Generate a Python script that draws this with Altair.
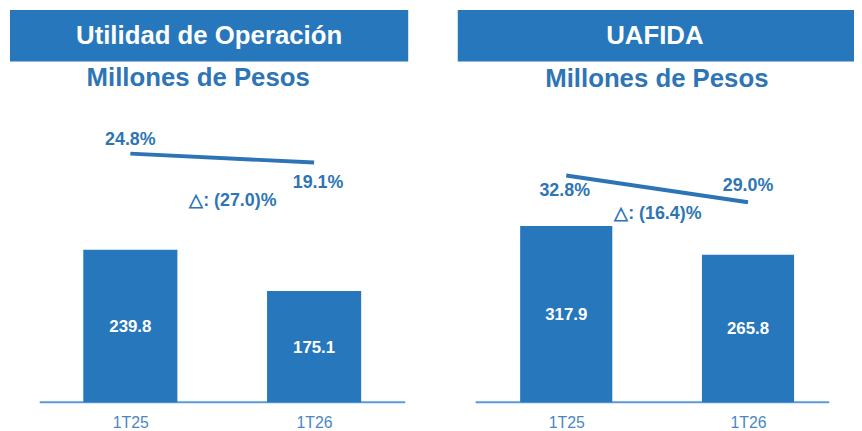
import altair as alt
import pandas as pd

# ---- data ----
periods = ["1T25", "1T26"]
op_income = [239.8, 175.1]
op_margin = [24.8, 19.1]
op_delta = "△: (27.0)%"
ebitda = [317.9, 265.8]
ebitda_margin = [32.8, 29.0]
ebitda_delta = "△: (16.4)%"
titles = ["Utilidad de Operación", "UAFIDA"]
subtitle = "Millones de Pesos"

FONT = "Liberation Sans, Arial, sans-serif"
HEADER = "#2677BB"
BAR = "#2677BB"
TXT = "#2E75B6"
LINE = "#2C74B6"
AXIS = "#5B9BD5"
TICK = "#4A86C6"
H = 396


def panel(title, values, margins, delta, cfg):
    df = pd.DataFrame({"period": periods, "value": values, "margin": margins})
    one = pd.DataFrame({"t": [title], "s": [subtitle], "d": [delta]})
    W = cfg["width"]

    xenc = alt.X(
        "period:N",
        sort=periods,
        scale=alt.Scale(type="point", range=cfg["centers"], padding=0),
        axis=alt.Axis(title=None, domain=False, ticks=False, labelPadding=12,
                      labelFontSize=16, labelColor=TICK, labelFont=FONT,
                      labelAngle=0, grid=False),
    )
    yb = alt.Scale(domain=[0, cfg["bar_max"]])
    ym = alt.Scale(domain=cfg["margin_dom"], zero=False)

    base = alt.Chart(df)
    header = alt.Chart(one).mark_rect(color=HEADER).encode(
        x=alt.value(cfg["hdr"][0]), x2=alt.value(cfg["hdr"][1]),
        y=alt.value(0), y2=alt.value(52))
    ttl = alt.Chart(one).mark_text(font=FONT, fontSize=26, fontWeight="bold",
                                   color="white", baseline="middle", align="center").encode(
        x=alt.value(cfg["title_xy"][0]), y=alt.value(cfg["title_xy"][1]), text="t:N")
    sub = alt.Chart(one).mark_text(font=FONT, fontSize=26, fontWeight="bold",
                                   color=TXT, baseline="middle", align="center").encode(
        x=alt.value(cfg["sub_xy"][0]), y=alt.value(cfg["sub_xy"][1]), text="s:N")
    rule = alt.Chart(one).mark_rule(color=AXIS, strokeWidth=2).encode(
        x=alt.value(cfg["axis"][0]), x2=alt.value(cfg["axis"][1]), y=alt.value(H))
    bars = base.mark_bar(size=cfg["bar_w"], color=BAR).encode(
        x=xenc, y=alt.Y("value:Q", scale=yb, axis=None))
    blab = base.transform_calculate(mid="datum.value/2").mark_text(
        font=FONT, fontSize=17, fontWeight="bold", color="white", baseline="middle", dy=1).encode(
        x=xenc, y=alt.Y("mid:Q", scale=yb, axis=None),
        text=alt.Text("value:Q", format=".1f"))
    line = base.mark_line(color=LINE, strokeWidth=4).encode(
        x=xenc, y=alt.Y("margin:Q", scale=ym, axis=None))
    layers = [header, ttl, sub, rule, bars, blab, line]
    for p, (dx, dy) in zip(periods, cfg["mlab"]):
        layers.append(
            base.transform_filter(alt.datum.period == p)
            .transform_calculate(lbl="format(datum.margin, '.1f') + '%'")
            .mark_text(font=FONT, fontSize=18, fontWeight="bold", color=TXT,
                       baseline="middle", dx=dx, dy=dy)
            .encode(x=xenc, y=alt.Y("margin:Q", scale=ym, axis=None), text="lbl:N"))
    dl = alt.Chart(one).mark_text(font=FONT, fontSize=18, fontWeight="bold", color=TXT,
                                  baseline="middle", align="center").encode(
        x=alt.value(cfg["delta_xy"][0]), y=alt.value(cfg["delta_xy"][1]), text="d:N")
    layers.append(dl)
    return alt.layer(*layers).resolve_scale(y="independent").properties(width=W, height=H)


left = panel(titles[0], op_income, op_margin, op_delta, {
    "width": 404, "hdr": [1, 403], "title_xy": [202, 26.5], "sub_xy": [191, 69],
    "axis": [31, 400], "centers": [122.5, 308], "bar_w": 95, "bar_max": 616.6,
    "margin_dom": [-134.1, 116.6], "mlab": [(0, -14), (4, 21)], "delta_xy": [226, 193],
})
right = panel(titles[1], ebitda, ebitda_margin, ebitda_delta, {
    "width": 400, "hdr": [0, 400], "title_xy": [199, 26.3], "sub_xy": [201, 70],
    "axis": [18, 375], "centers": [109.5, 293], "bar_w": 93, "bar_max": 707.2,
    "margin_dom": [0.57, 56.31], "mlab": [(-1.5, 16), (0, -16)], "delta_xy": [202, 206],
})

chart = alt.hconcat(left, right, spacing=49).properties(
    padding={"left": 1, "top": 0, "right": 0, "bottom": 0}
).configure_view(stroke=None)
chart.save("out.html", embed_options={"renderer": "svg", "actions": False})
